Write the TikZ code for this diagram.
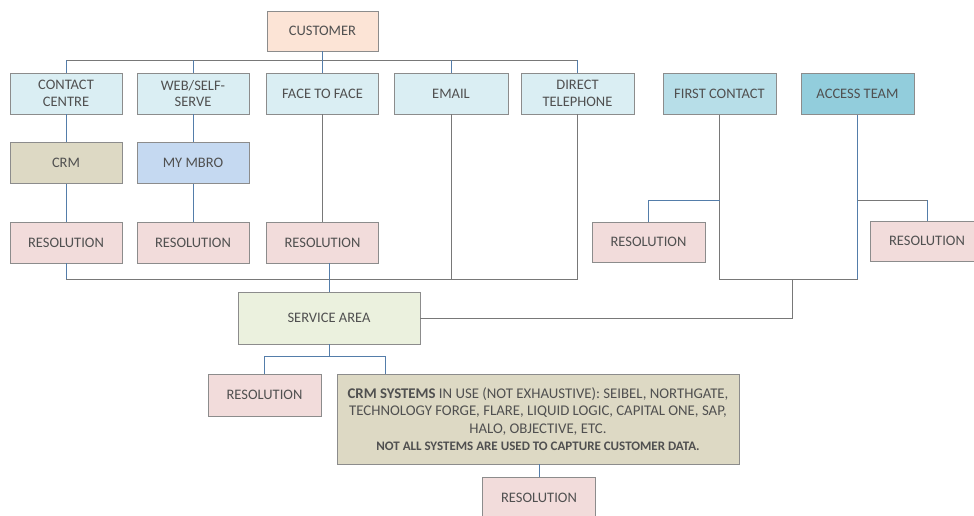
\documentclass[tikz,border=0pt]{standalone}
\usepackage{fontspec}
\setmainfont{Carlito}
\usetikzlibrary{positioning}

\definecolor{boxline}{RGB}{140,140,140}
\definecolor{textgray}{RGB}{80,80,80}
\definecolor{linkblue}{RGB}{84,125,170}
\definecolor{linkgray}{RGB}{120,120,120}
\definecolor{peach}{RGB}{252,228,214}
\definecolor{paleblue}{RGB}{218,238,243}
\definecolor{midblue}{RGB}{183,222,232}
\definecolor{deepblue}{RGB}{146,205,220}
\definecolor{tan}{RGB}{221,217,196}
\definecolor{lavblue}{RGB}{197,217,241}
\definecolor{pinkres}{RGB}{242,220,219}
\definecolor{palegreen}{RGB}{235,241,222}

\tikzset{
  card/.style={draw=boxline, line width=0.8pt, text=textgray, align=center,
    minimum width=112pt, minimum height=41pt, inner sep=2pt,
    font=\fontsize{14.5}{16.5}\selectfont},
  resbox/.style={card, fill=pinkres},
  blueline/.style={draw=linkblue, line width=0.9pt},
  grayline/.style={draw=linkgray, line width=0.9pt}
}

\begin{document}
\begin{tikzpicture}[x=1pt,y=-1pt]

    % Page frame
    \useasboundingbox (0,0) rectangle (974,515);

    % Bus coordinates
    \coordinate (topbus) at (0,60);
    \coordinate (sidebus) at (0,200);
    \coordinate (lowbus) at (0,279);
    \coordinate (join) at (792,279);
    \coordinate (splitbus) at (0,356);
    \coordinate (crmin) at (385,374);

    % Customer and the channels
    \node[card, fill=peach, minimum width=111pt, minimum height=40pt] (cust) at (322.5,31) {CUSTOMER};
    \node[card, fill=paleblue] (cc) at (66,93.5) {CONTACT\\CENTRE};
    \node[card, fill=paleblue] (web) at (193,93.5) {WEB/SELF-\\SERVE};
    \node[card, fill=paleblue] (ftf) at (322.5,93.5) {FACE TO FACE};
    \node[card, fill=paleblue, minimum width=114pt] (email) at (451,93.5) {EMAIL};
    \node[card, fill=paleblue, minimum width=113pt] (dtel) at (577.5,93.5) {DIRECT\\TELEPHONE};
    \node[card, fill=midblue, minimum width=113pt] (fc) at (719.5,94) {FIRST CONTACT};
    \node[card, fill=deepblue, minimum width=113pt] (at) at (857.5,94) {ACCESS TEAM};

    % Systems
    \node[card, fill=tan] (crm) at (66,163) {CRM};
    \node[card, fill=lavblue] (mbro) at (193,163) {MY MBRO};

    % Resolutions
    \node[resbox] (res1) at (66,242.5) {RESOLUTION};
    \node[resbox] (res2) at (193,242.5) {RESOLUTION};
    \node[resbox] (res3) at (322.5,242.5) {RESOLUTION};
    \node[resbox, minimum width=113pt, minimum height=40pt] (resfc) at (648.5,242) {RESOLUTION};
    \node[resbox, minimum width=113pt, minimum height=40pt] (resat) at (927,241) {RESOLUTION};

    % Service area and below
    \node[card, fill=palegreen, minimum width=182pt, minimum height=52pt] (sa) at (329,318) {SERVICE AREA};
    \node[resbox, minimum width=113pt, minimum height=42pt] (resl) at (264.5,395) {RESOLUTION};
    \node[card, fill=tan, minimum width=402pt, minimum height=90pt, font=\fontsize{14.8}{17.5}\selectfont] (crmsys) at (538,419)
      {\textbf{CRM SYSTEMS} IN USE (NOT EXHAUSTIVE): SEIBEL, NORTHGATE,\\
       TECHNOLOGY FORGE, FLARE, LIQUID LOGIC, CAPITAL ONE, SAP,\\
       HALO, OBJECTIVE, ETC.\\
       {\fontsize{13}{17.5}\selectfont\textbf{NOT ALL SYSTEMS ARE USED TO CAPTURE CUSTOMER DATA.}}};
    \node[resbox, minimum width=113pt] (resb) at (539,497.5) {RESOLUTION};

    % Customer to channels
    \draw[blueline] (cust.south) -- (cust.south |- topbus);
    \draw[grayline] (cc.north |- topbus) -- (dtel.north |- topbus);
    \foreach \ch in {cc,web,ftf,email,dtel}
      \draw[blueline] (\ch.north) -- (\ch.north |- topbus);

    % Channels down to resolutions
    \draw[blueline] (cc) -- (crm) -- (res1);
    \draw[blueline] (web) -- (mbro) -- (res2);
    \draw[grayline] (ftf.south) -- (res3.north);

    % Lower bus into the service area
    \draw[blueline] (res1.south) -- (res1.south |- lowbus);
    \draw[grayline] (res1.south |- lowbus) -- (dtel.south |- lowbus) -- (dtel.south);
    \draw[grayline] (email.south) -- (email.south |- lowbus);
    \draw[blueline] (sa.north) -- (sa.north |- res3.south);

    % First contact and access team
    \draw[grayline] (fc.south) -- (fc.south |- lowbus) -- (at.south |- lowbus);
    \draw[blueline] (at.south) -- (at.south |- lowbus);
    \draw[blueline] (fc.south |- sidebus) -- (resfc.north |- sidebus) -- (resfc.north);
    \draw[grayline] (at.south |- sidebus) -- (resat.north |- sidebus);
    \draw[blueline] (resat.north |- sidebus) -- (resat.north);
    \draw[grayline] (join) |- (sa.east);

    % Service area down
    \draw[blueline] (sa.south) -- (sa.south |- splitbus);
    \draw[blueline] (resl.north) -- (resl.north |- splitbus) -| (crmin);
    \draw[blueline] (crmsys.south -| resb.north) -- (resb.north);

    \end{tikzpicture}
\end{document}
